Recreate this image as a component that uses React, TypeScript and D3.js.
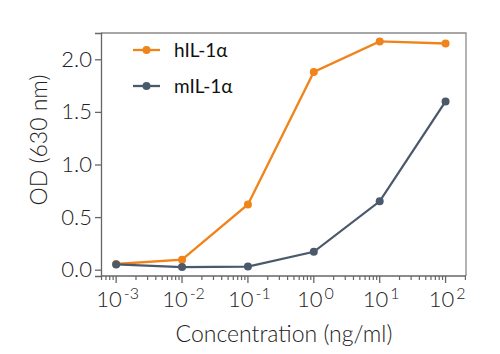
import React, { useRef, useEffect } from 'react';
import * as d3 from 'd3';

const concentrations = [0.001, 0.01, 0.1, 1, 10, 100];
const hIL = [0.054, 0.095, 0.62, 1.88, 2.17, 2.15];
const mIL = [0.05, 0.025, 0.03, 0.17, 0.65, 1.6];
const seriesNames = ['hIL-1α', 'mIL-1α'];
const seriesColors = ['#f0841a', '#4a5a6c'];
const yTicks = [0, 0.5, 1, 1.5, 2];
const xTickExponents = [-3, -2, -1, 0, 1, 2];

const App: React.FC = () => {
  const svgRef = useRef<SVGSVGElement>(null);
  const width = 500;
  const height = 354;
  const margin = { top: 33, right: 34, bottom: 78, left: 101 };

  useEffect(() => {
    if (!svgRef.current) return;
    const svg = d3.select(svgRef.current);
    svg.selectAll('*').remove();

    const innerWidth = width - margin.left - margin.right;
    const innerHeight = height - margin.top - margin.bottom;
    const font = 'Lato, sans-serif';

    const x = d3.scaleLog()
      .domain([Math.pow(10, -3.23), Math.pow(10, 2.31)])
      .range([0, innerWidth]);
    const y = d3.scaleLinear()
      .domain([-0.06, 2.25])
      .range([innerHeight, 0]);

    const g = svg.append('g').attr('transform', `translate(${margin.left},${margin.top})`);

    // frame (top and right)
    g.append('path')
      .attr('d', `M0,0H${innerWidth}V${innerHeight}`)
      .attr('fill', 'none')
      .attr('stroke', '#8a8a8a')
      .attr('stroke-width', 1.3);

    // y axis
    const ya = g.append('g').call(d3.axisLeft(y).tickValues(yTicks).tickFormat(d3.format('.1f')).tickSize(6).tickPadding(3));
    ya.select('.domain').attr('stroke', '#666').attr('stroke-width', 1.3);
    ya.selectAll('line').attr('stroke', '#666').attr('stroke-width', 1.3);
    ya.selectAll('text').attr('font-family', font).attr('font-weight', 300).attr('font-size', 22).attr('fill', '#222');

    // x axis with log minor ticks
    const xa = g.append('g').attr('transform', `translate(0,${innerHeight})`);
    xa.append('line').attr('x1', 0).attr('x2', innerWidth).attr('stroke', '#666').attr('stroke-width', 1.3);
    const minor: number[] = [];
    for (let e = -4; e <= 2; e++) {
      for (let m = 2; m <= 9; m++) {
        const v = m * Math.pow(10, e);
        const px = x(v);
        if (px >= 0 && px <= innerWidth) minor.push(v);
      }
    }
    xa.selectAll('.minor').data(minor).enter().append('line')
      .attr('x1', d => x(d)).attr('x2', d => x(d))
      .attr('y1', 0).attr('y2', 4)
      .attr('stroke', '#666').attr('stroke-width', 1.2);
    const majors = xTickExponents.map(e => Math.pow(10, e));
    xa.selectAll('.major').data(majors).enter().append('line')
      .attr('x1', d => x(d)).attr('x2', d => x(d))
      .attr('y1', 0).attr('y2', 7)
      .attr('stroke', '#666').attr('stroke-width', 1.3);
    const labels = xa.selectAll('.lbl').data(xTickExponents).enter().append('text')
      .attr('x', d => x(Math.pow(10, d)) + 1.5)
      .attr('y', 31)
      .attr('text-anchor', 'middle')
      .attr('font-family', font).attr('font-weight', 300).attr('font-size', 22).attr('fill', '#222');
    labels.append('tspan').text('10');
    labels.append('tspan').attr('dy', -8).attr('dx', 2).attr('font-size', 16).text(d => `${d}`);

    // axis titles
    g.append('text')
      .attr('x', innerWidth / 2 + 0.5)
      .attr('y', innerHeight + 66)
      .attr('text-anchor', 'middle')
      .attr('font-family', font).attr('font-weight', 300).attr('font-size', 23).attr('fill', '#222')
      .text('Concentration (ng/ml)');
    g.append('text')
      .attr('transform', `translate(${-54},${107}) rotate(-90)`)
      .attr('text-anchor', 'middle')
      .attr('font-family', font).attr('font-weight', 300).attr('font-size', 23).attr('fill', '#222')
      .text('OD (630 nm)');

    // series
    const series = [hIL, mIL];
    const line = d3.line<number>()
      .x((_, i) => x(concentrations[i]))
      .y(d => y(d));
    series.forEach((vals, si) => {
      g.append('path')
        .datum(vals)
        .attr('d', line)
        .attr('fill', 'none')
        .attr('stroke', seriesColors[si])
        .attr('stroke-width', 2.3);
      g.selectAll(`.pt${si}`).data(vals).enter().append('circle')
        .attr('cx', (_, i) => x(concentrations[i]))
        .attr('cy', d => y(d))
        .attr('r', 4)
        .attr('fill', seriesColors[si]);
    });

    // legend
    const leg = g.append('g').attr('transform', `translate(32,17)`);
    seriesNames.forEach((name, i) => {
      const row = leg.append('g').attr('transform', `translate(0,${i * 36})`);
      row.append('line').attr('x1', 0).attr('x2', 27).attr('stroke', seriesColors[i]).attr('stroke-width', 2.3);
      row.append('circle').attr('cx', 13.5).attr('r', 4).attr('fill', seriesColors[i]);
      row.append('text')
        .attr('x', 41).attr('y', 7)
        .attr('font-family', font).attr('font-weight', 400).attr('font-size', 19).attr('fill', '#111')
        .text(name);
    });
  }, []);

  return (
    <div style={{ position: 'fixed', left: 0, top: 0, width, height, background: '#fff' }}>
      <svg ref={svgRef} width={width} height={height} />
    </div>
  );
};

export default App;
